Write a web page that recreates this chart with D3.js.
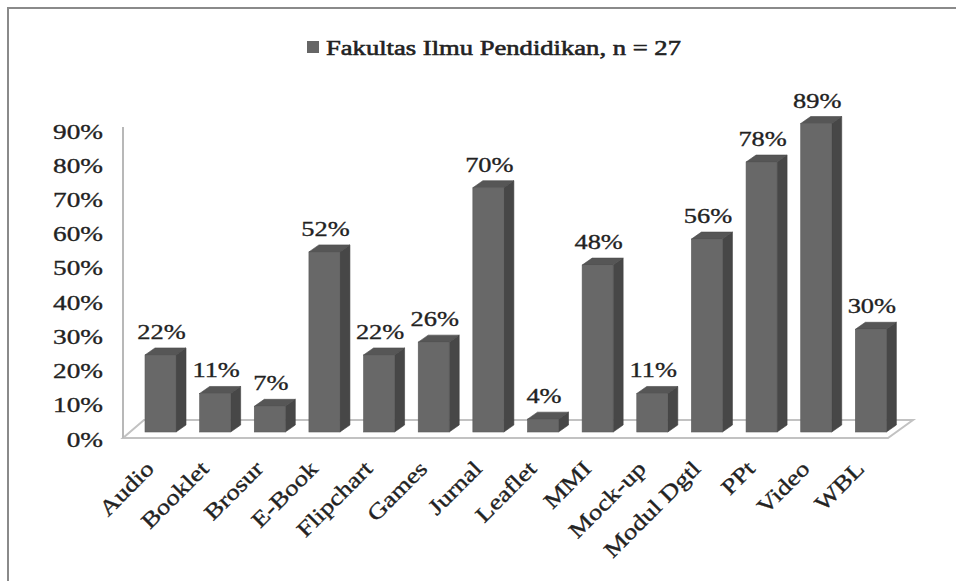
<!DOCTYPE html>
<html>
<head>
<meta charset="utf-8">
<script src="https://cdn.jsdelivr.net/npm/d3@7/dist/d3.min.js"></script>
<style>
  html, body { margin: 0; padding: 0; background: #fff; }
  svg { display: block; }
  text { font-family: "Liberation Serif", "Times New Roman", serif; fill: #222; stroke: #222; stroke-width: 0.35; }
</style>
</head>
<body>
<svg id="chart" width="956" height="581"></svg>
<script>
const seriesName = "Fakultas Ilmu Pendidikan, n = 27";
const categories = ["Audio", "Booklet", "Brosur", "E-Book", "Flipchart", "Games", "Jurnal",
                    "Leaflet", "MMI", "Mock-up", "Modul Dgtl", "PPt", "Video", "WBL"];
const values = [0.222, 0.111, 0.074, 0.519, 0.222, 0.259, 0.704,
                0.037, 0.481, 0.111, 0.556, 0.778, 0.889, 0.296];
const tickValues = [0, 0.1, 0.2, 0.3, 0.4, 0.5, 0.6, 0.7, 0.8, 0.9];

const svg = d3.select("#chart");
const fmt = d3.format(".0%");

// frame (cut by the picture at right & bottom)
svg.append("rect").attr("x", 8).attr("y", 8).attr("width", 1000).attr("height", 700)
  .attr("fill", "none").attr("stroke", "#8a8a8a").attr("stroke-width", 2);

// geometry
const plotLeft = 123, plotRight = 888, floorFront = 438;
const depthX = 21, depthY = 18;
const barBase = 432;
const barW = 31, barDX = 10, barDY = 7, barOffset = 22;

const x = d3.scaleBand().domain(categories).range([plotLeft, plotRight]).padding(0);
const yBar = d3.scaleLinear().domain([0, 1]).range([barBase, barBase - 347]);
const yAxis = d3.scaleLinear().domain([0, 0.9]).range([439, 131]);

function sText(parent, px, py, str, o) {
  const g = parent.append("g")
    .attr("transform", `translate(${px},${py}) rotate(${o.rot || 0}) scale(${o.sx || 1.2},1)`);
  return g.append("text").attr("x", 0).attr("y", 0)
    .attr("text-anchor", o.anchor || "middle")
    .attr("font-size", o.size || 22)
    .text(str);
}

// floor
const floor = svg.append("g");
floor.append("polygon")
  .attr("points", [
    [plotLeft, floorFront], [plotRight, floorFront],
    [plotRight + depthX + 4, floorFront - depthY], [plotLeft + depthX, floorFront - depthY]
  ].map(p => p.join(",")).join(" "))
  .attr("fill", "#fff").attr("stroke", "#c2c2c2").attr("stroke-width", 2);

// value axis line
svg.append("line")
  .attr("x1", plotLeft).attr("x2", plotLeft)
  .attr("y1", yAxis(0.9) - 4).attr("y2", floorFront)
  .attr("stroke", "#b8b8b8").attr("stroke-width", 2);

// tick labels
const ticks = svg.append("g");
tickValues.forEach(v => {
  sText(ticks, 103, yAxis(v) + 7.5, fmt(v), { anchor: "end", sx: 1.24, size: 22 });
});

// bars
const bars = svg.append("g");
categories.forEach((c, i) => {
  const v = values[i];
  const x0 = x(c) + barOffset, x1 = x0 + barW;
  const yt = yBar(v), yb = yBar(0);
  const b = bars.append("g");
  b.append("polygon")
    .attr("points", [[x1, yt], [x1 + barDX, yt - barDY], [x1 + barDX, yb - barDY], [x1, yb]]
      .map(p => p.join(",")).join(" "))
    .attr("fill", "#474747").attr("stroke", "#3f3f3f").attr("stroke-width", 0.6);
  b.append("polygon")
    .attr("points", [[x0, yt], [x1, yt], [x1 + barDX, yt - barDY], [x0 + barDX, yt - barDY]]
      .map(p => p.join(",")).join(" "))
    .attr("fill", "#565656").attr("stroke", "#4a4a4a").attr("stroke-width", 0.6);
  b.append("rect")
    .attr("x", x0).attr("y", yt).attr("width", barW).attr("height", yb - yt)
    .attr("fill", "#686868").attr("stroke", "#5a5a5a").attr("stroke-width", 0.6);
});

// data labels
const labels = svg.append("g");
categories.forEach((c, i) => {
  const cx = x(c) + barOffset + barW / 2 + 1;
  sText(labels, cx, yBar(values[i]) - 16, fmt(values[i]), { anchor: "middle", sx: 1.2, size: 22 });
});

// category labels
const cats = svg.append("g");
categories.forEach(c => {
  const cx = x(c) + x.bandwidth() / 2;
  sText(cats, cx + 5, 470, c, { anchor: "end", rot: -45, sx: 1.22, size: 22 });
});

// legend / title
svg.append("rect").attr("x", 307).attr("y", 41).attr("width", 12).attr("height", 12)
  .attr("fill", "#666");
sText(svg, 326, 55, seriesName, { anchor: "start", sx: 1.21, size: 22 })
  .style("stroke-width", 0.6);
</script>
</body>
</html>
